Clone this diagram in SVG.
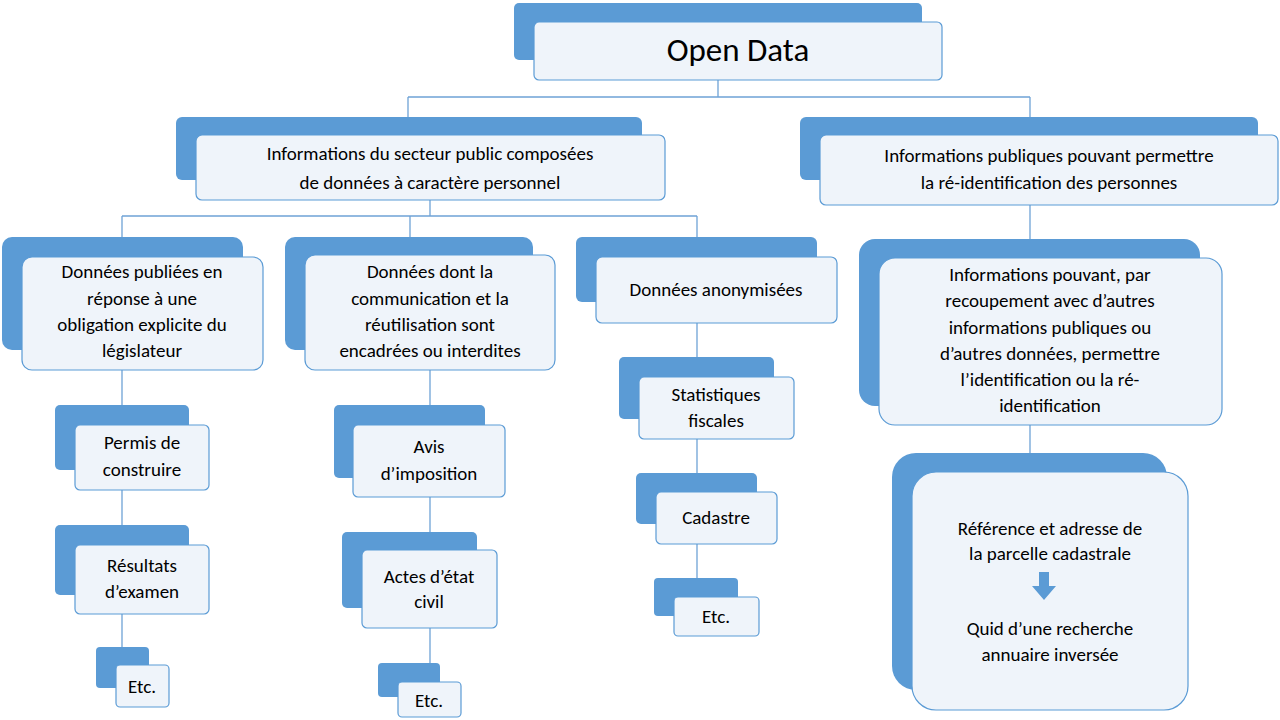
<svg xmlns="http://www.w3.org/2000/svg" width="1280" height="720" viewBox="0 0 1280 720">
<style>
.b{fill:#5b9bd5}
.f{fill:#eff4fa;stroke:#5b9bd5;stroke-width:1.2}
.c{fill:none;stroke:#6fa3d6;stroke-width:1.3}
text{font-family:Calibri,Carlito,"Liberation Sans",sans-serif;font-size:19px;fill:#000;text-anchor:middle}
</style>
<rect width="1280" height="720" fill="#fff"/>
<g id="connectors" class="c">
<path d="M718 80V97M408 97H1030M408 97V135M1030 97V135"/>
<path d="M430 200V216M122 216H697M122 216V257M410 216V255M697 216V257"/>
<path d="M122 370V665M430 370V682M697 323V597M1030 205V258M1030 425V472"/>
</g>
<g id="n0"><rect class="b" x="514" y="3" width="408" height="57" rx="5"/><rect class="f" x="534" y="22" width="408" height="58" rx="5"/><text x="738" y="61" style="font-size:33px">Open Data</text></g>
<g id="n1"><rect class="b" x="176" y="117" width="466" height="63" rx="6"/><rect class="f" x="196" y="135" width="469" height="65" rx="6"/><text x="430" y="160">Informations du secteur public composées</text><text x="430" y="189">de données à caractère personnel</text></g>
<g id="n2"><rect class="b" x="800" y="117" width="458" height="63" rx="6"/><rect class="f" x="820" y="135" width="458" height="70" rx="6"/><text x="1049" y="162">Informations publiques pouvant permettre</text><text x="1049" y="189">la ré-identification des personnes</text></g>
<g id="nA"><rect class="b" x="2" y="237" width="241" height="113" rx="10"/><rect class="f" x="22" y="257" width="241" height="113" rx="10"/><text x="142" y="278">Données publiées en</text><text x="142" y="305">réponse à une</text><text x="142" y="331">obligation explicite du</text><text x="142" y="357">législateur</text></g>
<g id="nB"><rect class="b" x="285" y="237" width="248" height="113" rx="10"/><rect class="f" x="305" y="255" width="250" height="115" rx="10"/><text x="430" y="278">Données dont la</text><text x="430" y="305">communication et la</text><text x="430" y="331">réutilisation sont</text><text x="430" y="357">encadrées ou interdites</text></g>
<g id="nC"><rect class="b" x="576" y="237" width="241" height="65" rx="6"/><rect class="f" x="596" y="257" width="241" height="66" rx="6"/><text x="716" y="296">Données anonymisées</text></g>
<g id="nA1"><rect class="b" x="55" y="405" width="134" height="65" rx="5"/><rect class="f" x="75" y="425" width="134" height="65" rx="5"/><text x="142" y="449">Permis de</text><text x="142" y="476">construire</text></g>
<g id="nA2"><rect class="b" x="55" y="525" width="134" height="70" rx="5"/><rect class="f" x="75" y="545" width="134" height="69" rx="5"/><text x="142" y="572">Résultats</text><text x="142" y="598">d’examen</text></g>
<g id="nA3"><rect class="b" x="96" y="647" width="53" height="41" rx="4"/><rect class="f" x="116" y="665" width="53" height="42" rx="4"/><text x="142" y="693">Etc.</text></g>
<g id="nB1"><rect class="b" x="334" y="405" width="151" height="73" rx="5"/><rect class="f" x="353" y="425" width="152" height="72" rx="5"/><text x="429" y="453">Avis</text><text x="429" y="480">d’imposition</text></g>
<g id="nB2"><rect class="b" x="342" y="532" width="135" height="76" rx="5"/><rect class="f" x="362" y="550" width="135" height="78" rx="5"/><text x="429" y="583">Actes d’état</text><text x="429" y="608">civil</text></g>
<g id="nB3"><rect class="b" x="378" y="663" width="62" height="34" rx="4"/><rect class="f" x="398" y="682" width="63" height="35" rx="4"/><text x="429" y="707">Etc.</text></g>
<g id="nC1"><rect class="b" x="619" y="357" width="155" height="62" rx="5"/><rect class="f" x="639" y="377" width="155" height="62" rx="5"/><text x="716" y="401">Statistiques</text><text x="716" y="427">fiscales</text></g>
<g id="nC2"><rect class="b" x="636" y="473" width="121" height="51" rx="5"/><rect class="f" x="656" y="492" width="121" height="52" rx="5"/><text x="716" y="524">Cadastre</text></g>
<g id="nC3"><rect class="b" x="654" y="578" width="84" height="38" rx="4"/><rect class="f" x="674" y="597" width="85" height="39" rx="4"/><text x="716" y="623">Etc.</text></g>
<g id="nD"><rect class="b" x="859" y="239" width="341" height="167" rx="16"/><rect class="f" x="879" y="258" width="343" height="167" rx="16"/><text x="1050" y="281">Informations pouvant, par</text><text x="1050" y="307">recoupement avec d’autres</text><text x="1050" y="334">informations publiques ou</text><text x="1050" y="360">d’autres données, permettre</text><text x="1050" y="386">l’identification ou la ré-</text><text x="1050" y="412">identification</text></g>
<g id="nE"><rect class="b" x="892" y="453" width="275" height="237" rx="24"/><rect class="f" x="912" y="472" width="276" height="238" rx="24"/><text x="1050" y="535">Référence et adresse de</text><text x="1050" y="560">la parcelle cadastrale</text><path d="M1039 572h10v14h7l-12 14-12-14h7z" fill="#5b9bd5"/><text x="1050" y="635">Quid d’une recherche</text><text x="1050" y="661">annuaire inversée</text></g>
</svg>
